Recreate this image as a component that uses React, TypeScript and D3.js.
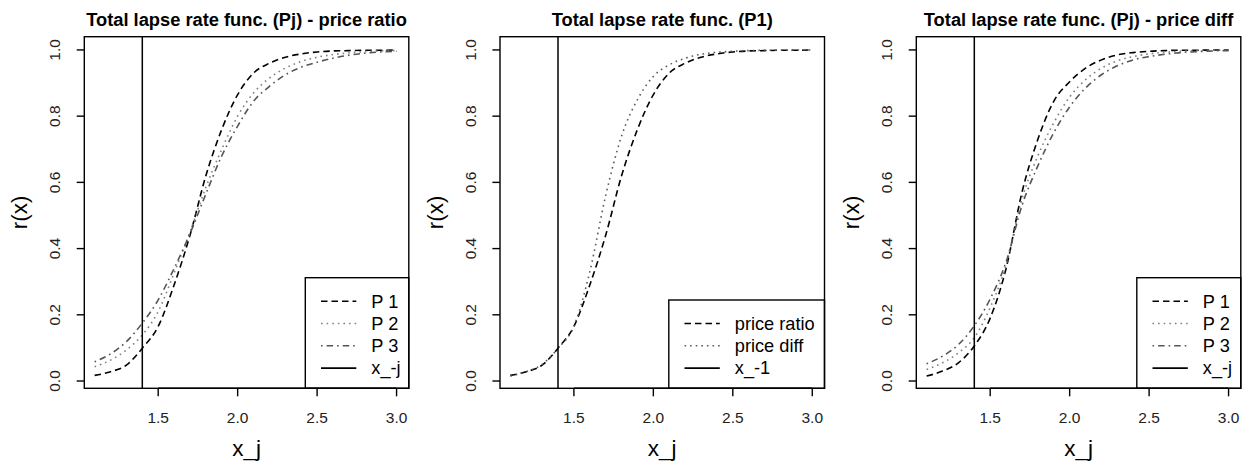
import * as d3 from "d3";

// x grid of the curves
const X_VALUES = [1.1, 1.2, 1.3, 1.4, 1.5, 1.6, 1.7, 1.8, 1.9, 2.0, 2.1, 2.2, 2.3, 2.4, 2.5, 2.6, 2.7, 2.8, 2.9, 3.0];
const X_TICKS = [1.5, 2.0, 2.5, 3.0];
const Y_TICKS = [0, 0.2, 0.4, 0.6, 0.8, 1.0];
const X_CUTOFF = 1.4;

// panel 1: price ratio
const ratioP1 = [0.017, 0.028, 0.048, 0.099, 0.165, 0.29, 0.44, 0.62, 0.76, 0.865, 0.93, 0.96, 0.978, 0.988, 0.994, 0.997, 0.998, 0.999, 0.999, 1.0];
const ratioP2 = [0.043, 0.063, 0.094, 0.139, 0.21, 0.326, 0.45, 0.585, 0.7, 0.8, 0.87, 0.915, 0.945, 0.965, 0.978, 0.986, 0.991, 0.995, 0.997, 0.998];
const ratioP3 = [0.058, 0.082, 0.119, 0.175, 0.245, 0.34, 0.445, 0.565, 0.68, 0.77, 0.845, 0.89, 0.925, 0.948, 0.963, 0.975, 0.984, 0.99, 0.994, 0.996];

// panel 2: P1, ratio vs diff
const p1Ratio = ratioP1;
const p1Diff = [0.015, 0.028, 0.05, 0.099, 0.165, 0.33, 0.56, 0.74, 0.85, 0.92, 0.955, 0.975, 0.987, 0.993, 0.996, 0.998, 0.999, 0.999, 1.0, 1.0];

// panel 3: price diff
const diffP1 = [0.015, 0.03, 0.055, 0.106, 0.19, 0.34, 0.57, 0.73, 0.845, 0.904, 0.945, 0.97, 0.985, 0.992, 0.996, 0.998, 0.999, 0.999, 1.0, 1.0];
const diffP2 = [0.035, 0.055, 0.085, 0.131, 0.222, 0.35, 0.55, 0.68, 0.78, 0.858, 0.91, 0.945, 0.967, 0.98, 0.988, 0.993, 0.996, 0.998, 0.999, 0.999];
const diffP3 = [0.052, 0.075, 0.11, 0.167, 0.248, 0.36, 0.53, 0.65, 0.75, 0.828, 0.885, 0.925, 0.952, 0.97, 0.98, 0.987, 0.992, 0.995, 0.997, 0.998];

const FONT = "'Liberation Sans', Arial, Helvetica, sans-serif";

const DASH = {
  dashed: "6.5,4",
  dotted: "1.6,4",
  dotdash: "1.6,4,6.5,4",
  solid: null,
};

type Series = { label: string; values: number[]; dash: keyof typeof DASH; color: string };

const BOX_TOP = 36.7;
const BOX_BOTTOM = 388.3;
const BOX_W = 324.5;

function Panel({ left, title, series, cutLabel, legendW }: { left: number; title: string; series: Series[]; cutLabel: string; legendW: number }) {
  const x = d3.scaleLinear().domain([1.035, 3.077]).range([left, left + BOX_W]);
  const y = d3.scaleLinear().domain([-0.022, 1.04]).range([BOX_BOTTOM, BOX_TOP]);
  const line = d3
    .line<number>()
    .x((_, i) => x(X_VALUES[i]))
    .y((d) => y(d))
    .curve(d3.curveMonotoneX);

  const right = left + BOX_W;
  const cx = left + BOX_W / 2;
  const cy = (BOX_TOP + BOX_BOTTOM) / 2;

  const legendItems = [
    ...series.map((s) => ({ label: s.label, dash: DASH[s.dash], color: s.color })),
    { label: cutLabel, dash: null, color: "#000" },
  ];
  const rowH = 22.3;
  const legH = 23.5 + (legendItems.length - 1) * rowH + 20.2;
  const legL = right - legendW;
  const legT = BOX_BOTTOM - legH;

  return (
    <g>
      <text x={cx} y={26} textAnchor="middle" fontFamily={FONT} fontWeight="bold" fontSize={18.3}>
        {title}
      </text>
      {series.map((s) => (
        <path
          key={s.label}
          d={line(s.values) ?? ""}
          fill="none"
          stroke={s.color}
          strokeWidth={1.6}
          strokeDasharray={DASH[s.dash] ?? undefined}
        />
      ))}
      <line x1={x(X_CUTOFF)} x2={x(X_CUTOFF)} y1={BOX_TOP} y2={BOX_BOTTOM} stroke="#000" strokeWidth={1.5} />

      {/* legend */}
      <rect x={legL} y={legT} width={legendW} height={legH} fill="#fff" stroke="#000" strokeWidth={1.4} />
      {legendItems.map((it, i) => {
        const ry = legT + 23.5 + i * rowH;
        return (
          <g key={it.label}>
            <line x1={legL + 15.7} x2={legL + 51} y1={ry} y2={ry} stroke={it.color} strokeWidth={1.6} strokeDasharray={it.dash ?? undefined} />
            <text x={legL + 66} y={ry + 6.3} fontFamily={FONT} fontSize={18.2}>
              {it.label}
            </text>
          </g>
        );
      })}

      <rect x={left} y={BOX_TOP} width={BOX_W} height={BOX_BOTTOM - BOX_TOP} fill="none" stroke="#000" strokeWidth={1.4} />

      {/* x axis */}
      <line x1={x(X_TICKS[0])} x2={x(X_TICKS[X_TICKS.length - 1])} y1={BOX_BOTTOM} y2={BOX_BOTTOM} stroke="#000" strokeWidth={1.4} />
      {X_TICKS.map((t) => (
        <g key={t}>
          <line x1={x(t)} x2={x(t)} y1={BOX_BOTTOM} y2={BOX_BOTTOM + 8} stroke="#000" strokeWidth={1.4} />
          <text x={x(t)} y={422.5} textAnchor="middle" fontFamily={FONT} fontSize={15.5} fill="#222">
            {t.toFixed(1)}
          </text>
        </g>
      ))}
      {/* y axis */}
      {Y_TICKS.map((t) => (
        <g key={t}>
          <line x1={left - 7.6} x2={left} y1={y(t)} y2={y(t)} stroke="#000" strokeWidth={1.4} />
          <text
            transform={`translate(${left - 24.5},${y(t)}) rotate(-90)`}
            textAnchor="middle"
            fontFamily={FONT}
            fontSize={15.5}
            fill="#222"
          >
            {t.toFixed(1)}
          </text>
        </g>
      ))}

      <text x={cx} y={456} textAnchor="middle" fontFamily={FONT} fontSize={22.5}>
        x_j
      </text>
      <text transform={`translate(${left - 57},${cy}) rotate(-90)`} textAnchor="middle" fontFamily={FONT} fontSize={22.5}>
        r(x)
      </text>
    </g>
  );
}

export default function App() {
  const black = "#000";
  const grayLight = "#808080";
  const grayDark = "#555";
  return (
    <svg width={1244} height={465} style={{ position: "absolute", left: 0, top: 0, background: "#fff" }}>
      <rect width={1244} height={465} fill="#fff" />
      <Panel
        left={84.3}
        title="Total lapse rate func. (Pj) - price ratio"
        legendW={103.5}
        cutLabel="x_-j"
        series={[
          { label: "P 1", values: ratioP1, dash: "dashed", color: black },
          { label: "P 2", values: ratioP2, dash: "dotted", color: grayLight },
          { label: "P 3", values: ratioP3, dash: "dotdash", color: grayDark },
        ]}
      />
      <Panel
        left={500}
        title="Total lapse rate func. (P1)"
        legendW={155.7}
        cutLabel="x_-1"
        series={[
          { label: "price ratio", values: p1Ratio, dash: "dashed", color: black },
          { label: "price diff", values: p1Diff, dash: "dotted", color: "#5a5a5a" },
        ]}
      />
      <Panel
        left={916.3}
        title="Total lapse rate func. (Pj) - price diff"
        legendW={104}
        cutLabel="x_-j"
        series={[
          { label: "P 1", values: diffP1, dash: "dashed", color: black },
          { label: "P 2", values: diffP2, dash: "dotted", color: grayLight },
          { label: "P 3", values: diffP3, dash: "dotdash", color: grayDark },
        ]}
      />
    </svg>
  );
}
